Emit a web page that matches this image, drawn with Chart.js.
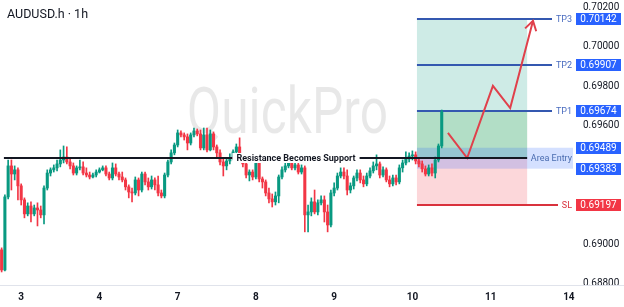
<!DOCTYPE html>
<html>
<head>
<meta charset="utf-8">
<script src="https://cdn.jsdelivr.net/npm/chart.js@4.4.1/dist/chart.umd.min.js"></script>
<style>
  html, body { margin: 0; padding: 0; background: #fff; }
  canvas { display: block; }
</style>
</head>
<body>
<canvas id="chart" width="624" height="307"></canvas>
<script>
// AUDUSD.h 1h candles (index = hour from chart start)
const opens = [
  0.68972,0.68870,0.69240,0.69397,0.69356,0.69377,0.69296,0.69225,0.69154,0.69194,
  0.69154,0.69184,0.69174,0.69149,0.69285,0.69361,0.69377,0.69387,0.69407,0.69427,
  0.69442,0.69417,0.69397,0.69361,0.69387,0.69392,0.69361,0.69351,0.69341,0.69351,
  0.69366,0.69377,0.69387,0.69356,0.69336,0.69387,0.69356,0.69341,0.69326,0.69291,
  0.69265,0.69260,0.69326,0.69275,0.69356,0.69316,0.69291,0.69326,0.69301,0.69260,
  0.69245,0.69351,0.69417,0.69463,0.69503,0.69564,0.69554,0.69544,0.69513,0.69554,
  0.69574,0.69559,0.69488,0.69554,0.69478,0.69559,0.69493,0.69463,0.69417,0.69397,
  0.69422,0.69437,0.69468,0.69493,0.69442,0.69407,0.69351,0.69366,0.69341,0.69412,
  0.69331,0.69316,0.69260,0.69230,0.69215,0.69245,0.69341,0.69377,0.69397,0.69412,
  0.69387,0.69402,0.69366,0.69387,0.69149,0.69164,0.69215,0.69164,0.69210,0.69225,
  0.69164,0.69098,0.69260,0.69285,0.69346,0.69366,0.69346,0.69275,0.69296,0.69336,
  0.69361,0.69326,0.69306,0.69346,0.69372,0.69397,0.69407,0.69351,0.69377,0.69326,
  0.69306,0.69336,0.69316,0.69387,0.69412,0.69432,0.69447,0.69453,0.69422,0.69407,
  0.69382,0.69356,0.69387,0.69361,0.69427,0.69498
];
const highs = [
  0.68982,0.69250,0.69427,0.69427,0.69397,0.69387,0.69306,0.69235,0.69210,0.69215,
  0.69199,0.69210,0.69194,0.69296,0.69377,0.69387,0.69402,0.69427,0.69478,0.69498,
  0.69493,0.69437,0.69412,0.69397,0.69427,0.69417,0.69387,0.69366,0.69361,0.69377,
  0.69387,0.69397,0.69397,0.69366,0.69412,0.69407,0.69366,0.69366,0.69336,0.69301,
  0.69285,0.69341,0.69336,0.69366,0.69366,0.69336,0.69346,0.69336,0.69346,0.69275,
  0.69361,0.69427,0.69478,0.69513,0.69579,0.69574,0.69564,0.69559,0.69564,0.69589,
  0.69584,0.69579,0.69589,0.69589,0.69579,0.69569,0.69503,0.69478,0.69437,0.69437,
  0.69458,0.69478,0.69508,0.69539,0.69453,0.69417,0.69377,0.69377,0.69427,0.69427,
  0.69341,0.69326,0.69285,0.69255,0.69265,0.69351,0.69392,0.69427,0.69422,0.69437,
  0.69417,0.69417,0.69402,0.69397,0.69199,0.69235,0.69275,0.69225,0.69245,0.69245,
  0.69199,0.69275,0.69311,0.69361,0.69387,0.69387,0.69377,0.69311,0.69346,0.69377,
  0.69377,0.69346,0.69361,0.69387,0.69417,0.69453,0.69417,0.69392,0.69387,0.69346,
  0.69351,0.69351,0.69402,0.69427,0.69468,0.69463,0.69473,0.69468,0.69437,0.69422,
  0.69397,0.69402,0.69407,0.69442,0.69508,0.69680
];
const lows = [
  0.68860,0.68865,0.69230,0.69275,0.69326,0.69225,0.69199,0.69134,0.69144,0.69113,
  0.69144,0.69093,0.69134,0.69103,0.69275,0.69346,0.69366,0.69372,0.69392,0.69412,
  0.69407,0.69382,0.69351,0.69351,0.69377,0.69351,0.69341,0.69331,0.69336,0.69341,
  0.69361,0.69372,0.69346,0.69326,0.69326,0.69346,0.69326,0.69316,0.69275,0.69235,
  0.69215,0.69250,0.69245,0.69265,0.69301,0.69275,0.69280,0.69275,0.69245,0.69235,
  0.69235,0.69341,0.69407,0.69453,0.69493,0.69544,0.69528,0.69478,0.69503,0.69544,
  0.69549,0.69478,0.69478,0.69468,0.69473,0.69478,0.69437,0.69402,0.69346,0.69377,
  0.69407,0.69427,0.69458,0.69432,0.69392,0.69336,0.69321,0.69326,0.69331,0.69316,
  0.69285,0.69245,0.69210,0.69189,0.69199,0.69210,0.69331,0.69366,0.69387,0.69377,
  0.69377,0.69356,0.69356,0.69063,0.69063,0.69144,0.69154,0.69149,0.69199,0.69113,
  0.69063,0.69088,0.69245,0.69275,0.69336,0.69331,0.69250,0.69260,0.69280,0.69321,
  0.69311,0.69291,0.69296,0.69336,0.69361,0.69377,0.69336,0.69341,0.69316,0.69291,
  0.69296,0.69301,0.69306,0.69366,0.69402,0.69417,0.69427,0.69407,0.69392,0.69366,
  0.69346,0.69346,0.69346,0.69336,0.69417,0.69488
];
const closes = [
  0.68870,0.69240,0.69397,0.69356,0.69377,0.69296,0.69225,0.69154,0.69194,0.69154,
  0.69184,0.69174,0.69149,0.69285,0.69361,0.69377,0.69387,0.69407,0.69427,0.69442,
  0.69417,0.69397,0.69361,0.69387,0.69392,0.69361,0.69351,0.69341,0.69351,0.69366,
  0.69377,0.69387,0.69356,0.69336,0.69387,0.69356,0.69341,0.69326,0.69291,0.69265,
  0.69260,0.69326,0.69275,0.69356,0.69316,0.69291,0.69326,0.69301,0.69260,0.69245,
  0.69351,0.69417,0.69463,0.69503,0.69564,0.69554,0.69544,0.69513,0.69554,0.69574,
  0.69559,0.69488,0.69554,0.69478,0.69559,0.69493,0.69463,0.69417,0.69397,0.69422,
  0.69437,0.69468,0.69493,0.69442,0.69407,0.69351,0.69366,0.69341,0.69412,0.69331,
  0.69316,0.69260,0.69230,0.69215,0.69245,0.69341,0.69377,0.69397,0.69412,0.69387,
  0.69402,0.69366,0.69387,0.69149,0.69164,0.69215,0.69164,0.69210,0.69225,0.69164,
  0.69098,0.69260,0.69285,0.69346,0.69366,0.69346,0.69275,0.69296,0.69336,0.69361,
  0.69326,0.69306,0.69346,0.69372,0.69397,0.69407,0.69351,0.69377,0.69326,0.69306,
  0.69336,0.69316,0.69387,0.69412,0.69432,0.69447,0.69453,0.69422,0.69407,0.69382,
  0.69356,0.69387,0.69361,0.69427,0.69498,0.69670
];

// x axis: day labels and the hour index where each day starts
const dayLabels = ['3', '4', '7', '8', '9', '10', '11', '14'];
const dayStarts = [6, 30, 54, 78, 102, 126, 150, 174];
const priceTicks = [0.688, 0.690, 0.692, 0.694, 0.696, 0.698, 0.700, 0.702];

// trade setup
const targetNames = ['TP3', 'TP2', 'TP1'];
const targetPrices = [0.70142, 0.69907, 0.69674];
const entryPrices = [0.69489, 0.69383];
const entryLevel = 0.69435;
const stopPrice = 0.69197;
const setupSpan = [127.4, 161.2];
const resistanceSpan = [0.7, 161.2];
const resistanceLabelAt = 90.3;

// projected path (hour index, price)
const pathX = [136.9, 142.8, 150.7, 156.0, 163.0];
const pathY = [0.69564, 0.69437, 0.69802, 0.69690, 0.70132];

const UP = '#089981', DOWN = '#f23645';
const candleColors = closes.map((c, i) => c >= opens[i] ? UP : DOWN);
const FONT = 'Roboto, "Noto Sans", sans-serif';

function priceBox(ctx, yPix, text, color, left, right) {
  ctx.fillStyle = color;
  ctx.fillRect(left, Math.round(yPix) - 6, right - left, 12);
  ctx.fillStyle = '#fff';
  ctx.font = '10px ' + FONT;
  ctx.textAlign = 'center';
  ctx.textBaseline = 'middle';
  ctx.fillText(text, (left + right) / 2, yPix + 0.5);
}

// keep the plot flush with the canvas edges (no room reserved for end labels)
function noPadding(s) {
  s.paddingTop = 0; s.paddingBottom = 0; s.paddingLeft = 0; s.paddingRight = 0;
}

const setupPlugin = {
  id: 'setup',
  beforeDatasetsDraw(chart) {
    const { ctx, chartArea: a, scales: { x, y } } = chart;
    ctx.save();
    // watermark
    ctx.font = '64px ' + FONT;
    ctx.fillStyle = 'rgba(0,0,0,0.09)';
    ctx.textBaseline = 'alphabetic';
    const w = ctx.measureText('QuickPro').width;
    ctx.translate(187, 133);
    ctx.scale(201 / w, 1);
    ctx.fillText('QuickPro', 0, 0);
    ctx.restore();

    ctx.save();
    const x0 = x.getPixelForValue(setupSpan[0]);
    const x1 = x.getPixelForValue(setupSpan[1]);
    const yE = y.getPixelForValue(entryLevel);
    const yT3 = y.getPixelForValue(targetPrices[0]);
    const yT1 = y.getPixelForValue(targetPrices[2]);
    const yS = y.getPixelForValue(stopPrice);
    ctx.fillStyle = 'rgba(8,153,129,0.2)';
    ctx.fillRect(x0, yT3, x1 - x0, yE - yT3);
    ctx.fillStyle = 'rgba(76,175,80,0.22)';
    ctx.fillRect(x0, yT1, x1 - x0, yE - yT1);
    ctx.fillStyle = 'rgba(242,54,69,0.2)';
    ctx.fillRect(x0, yE, x1 - x0, yS - yE);
    const yA = y.getPixelForValue(entryPrices[0]);
    const yB = y.getPixelForValue(entryPrices[1]);
    ctx.fillStyle = 'rgba(41,98,255,0.2)';
    ctx.fillRect(x0, yA, a.right - 5 - x0, yB - yA);

    // target and stop lines
    ctx.lineWidth = 2;
    ctx.font = '9px ' + FONT;
    ctx.textAlign = 'right';
    ctx.textBaseline = 'middle';
    targetPrices.forEach((p, i) => {
      const yy = Math.round(y.getPixelForValue(p));
      ctx.strokeStyle = '#3458b0';
      ctx.beginPath(); ctx.moveTo(x0, yy); ctx.lineTo(a.right - 26, yy); ctx.stroke();
      ctx.fillStyle = '#4a6cbf';
      ctx.fillText(targetNames[i], a.right - 6, yy + 0.5);
    });
    const ys = Math.round(yS);
    ctx.strokeStyle = '#d9323d';
    ctx.beginPath(); ctx.moveTo(x0, ys); ctx.lineTo(a.right - 20, ys); ctx.stroke();
    ctx.fillStyle = '#d9323d';
    ctx.fillText('SL', a.right - 6, ys + 0.5);
    ctx.fillStyle = '#4a6cb0';
    ctx.fillText('Area Entry', a.right - 6, yE + 0.5);
    ctx.restore();
  },
  afterDatasetsDraw(chart) {
    const { ctx, scales: { x, y } } = chart;
    ctx.save();
    // resistance line with label
    const yR = Math.round(y.getPixelForValue(entryLevel));
    ctx.strokeStyle = '#131722';
    ctx.lineWidth = 2;
    ctx.beginPath();
    ctx.moveTo(x.getPixelForValue(resistanceSpan[0]), yR);
    ctx.lineTo(x.getPixelForValue(resistanceSpan[1]), yR);
    ctx.stroke();
    ctx.font = 'bold 9px ' + FONT;
    const label = 'Resistance Becomes Support';
    const lw = ctx.measureText(label).width;
    const lx = x.getPixelForValue(resistanceLabelAt);
    ctx.fillStyle = '#fff';
    ctx.fillRect(lx - lw / 2 - 4, yR - 5, lw + 8, 10);
    ctx.fillStyle = '#131722';
    ctx.textAlign = 'center';
    ctx.textBaseline = 'middle';
    ctx.fillText(label, lx, yR + 0.5);

    // arrow head on the projected path
    const pts = chart.getDatasetMeta(2).data;
    const p1 = pts[pts.length - 2], p2 = pts[pts.length - 1];
    const ang = Math.atan2(p2.y - p1.y, p2.x - p1.x);
    ctx.strokeStyle = '#e0404b';
    ctx.lineWidth = 2;
    ctx.beginPath();
    ctx.moveTo(p2.x - 11 * Math.cos(ang - 0.55), p2.y - 11 * Math.sin(ang - 0.55));
    ctx.lineTo(p2.x, p2.y);
    ctx.lineTo(p2.x - 11 * Math.cos(ang + 0.55), p2.y - 11 * Math.sin(ang + 0.55));
    ctx.stroke();
    ctx.restore();
  },
  afterDraw(chart) {
    const { ctx, chartArea: a, scales: { y } } = chart;
    ctx.save();
    // hide the clipped lower tick label below the time axis
    ctx.fillStyle = '#fff';
    ctx.fillRect(a.right, a.bottom + 0.5, chart.width - a.right, chart.height - a.bottom);
    ctx.strokeStyle = '#e0e3eb';
    ctx.lineWidth = 1;
    ctx.beginPath(); ctx.moveTo(0, a.bottom + 0.5); ctx.lineTo(chart.width, a.bottom + 0.5); ctx.stroke();

    // the entry boxes hide the axis label that sits between them
    const yA = y.getPixelForValue(entryPrices[0]);
    const yB = y.getPixelForValue(entryPrices[1]);
    ctx.fillStyle = '#fff';
    ctx.fillRect(a.right, yA, chart.width - a.right, yB - yA);

    const bl = a.right - 2, br = chart.width - 3;
    targetPrices.forEach(p => priceBox(ctx, y.getPixelForValue(p), p.toFixed(5), '#2962ff', bl, br));
    entryPrices.forEach(p => priceBox(ctx, y.getPixelForValue(p), p.toFixed(5), '#2962ff', bl, br));
    priceBox(ctx, y.getPixelForValue(stopPrice), stopPrice.toFixed(5), '#f23645', bl, br);

    ctx.fillStyle = '#131722';
    ctx.font = '12.5px ' + FONT;
    ctx.textAlign = 'left';
    ctx.textBaseline = 'alphabetic';
    ctx.fillText('AUDUSD.h \u00b7 1h', 7, 17.5);
    ctx.restore();
  }
};

new Chart(document.getElementById('chart'), {
  type: 'bar',
  data: {
    datasets: [
      {
        type: 'bar',
        data: highs.map((h, i) => ({ x: i, y: [lows[i], h] })),
        backgroundColor: candleColors,
        barThickness: 1,
        grouped: false,
        order: 2
      },
      {
        type: 'bar',
        data: opens.map((o, i) => ({ x: i, y: [o, closes[i]] })),
        backgroundColor: candleColors,
        barThickness: 2.4,
        minBarLength: 1,
        grouped: false,
        order: 1
      },
      {
        type: 'line',
        data: pathX.map((px, i) => ({ x: px, y: pathY[i] })),
        borderColor: '#e0404b',
        borderWidth: 2,
        pointRadius: 0,
        tension: 0,
        order: 0
      }
    ]
  },
  options: {
    responsive: false,
    animation: false,
    devicePixelRatio: 1,
    layout: { padding: 0 },
    plugins: { legend: { display: false }, tooltip: { enabled: false } },
    scales: {
      x: {
        type: 'linear',
        min: -0.5,
        max: 176.8,
        offset: false,
        grid: { display: false, drawTicks: false, offset: false },
        border: { display: false },
        afterBuildTicks: s => { s.ticks = dayStarts.map(v => ({ value: v })); },
        afterFit: s => { s.height = 22; noPadding(s); },
        ticks: {
          autoSkip: false, maxRotation: 0, padding: 6,
          color: '#131722',
          font: { family: FONT, size: 10, weight: 'bold' },
          callback: (v, i) => dayLabels[i]
        }
      },
      y: {
        position: 'right',
        min: 0.68794,
        max: 0.70237,
        grid: { display: false, drawTicks: false },
        border: { display: false },
        afterBuildTicks: s => { s.ticks = priceTicks.map(v => ({ value: v })); },
        afterFit: s => { s.width = 46; noPadding(s); },
        ticks: {
          padding: 5, crossAlign: 'near',
          color: '#131722',
          font: { family: FONT, size: 10 },
          callback: v => v.toFixed(5)
        }
      }
    }
  },
  plugins: [setupPlugin]
});
</script>
</body>
</html>
